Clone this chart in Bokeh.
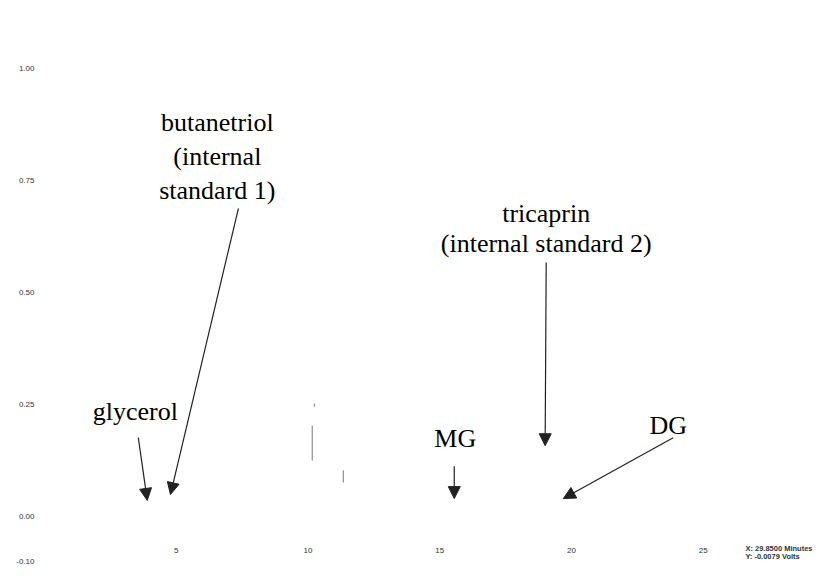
import math
from bokeh.plotting import figure
from bokeh.models import (Range1d, FixedTicker, Arrow, NormalHead, Label,
                          ColumnDataSource)
from bokeh.core.properties import value
from bokeh.embed import file_html
from bokeh.resources import INLINE

# ---- data ----
x_ticks = [5, 10, 15, 20, 25]
y_ticks = [-0.10, 0.00, 0.25, 0.50, 0.75, 1.00]
y_tick_labels = ["-0.10", "0.00", "0.25", "0.50", "0.75", "1.00"]

# visible fragments of the detector trace (minutes, volts)
trace_time = [10.16, 10.16, math.nan, 10.24, 10.24, math.nan, 11.34, 11.34]
trace_volts = [0.125, 0.203, math.nan, 0.245, 0.252, math.nan, 0.076, 0.103]

# peak annotations: text lines
label_text = ["butanetriol", "(internal", "standard 1)",
              "tricaprin", "(internal standard 2)",
              "glycerol", "MG", "DG"]
label_x = [6.56, 6.56, 6.56, 19.04, 19.04, 3.45, 15.59, 23.67]
label_y = [0.880, 0.804, 0.728, 0.676, 0.609, 0.234, 0.174, 0.203]

# arrows: start -> tip
arrow_name = ["glycerol", "butanetriol", "tricaprin", "MG", "DG"]
arrow_x0 = [3.56, 7.36, 19.04, 15.55, 23.86]
arrow_y0 = [0.176, 0.688, 0.567, 0.112, 0.176]
arrow_x1 = [3.90, 4.78, 19.00, 15.55, 19.69]
arrow_y1 = [0.036, 0.049, 0.158, 0.040, 0.040]

readout = ["X: 29.8500 Minutes", "Y: -0.0079 Volts"]

# ---- figure ----
p = figure(width=820, height=569, output_backend="svg", toolbar_location=None,
           x_range=Range1d(0, 29.45), y_range=Range1d(-0.1004, 1.0201),
           frame_width=776, frame_height=502,
           min_border_left=44, min_border_right=0,
           min_border_top=59, min_border_bottom=8)
p.outline_line_color = None
p.grid.visible = False
p.background_fill_color = "white"

for ax in (p.xaxis[0], p.yaxis[0]):
    ax.axis_line_color = None
    ax.major_tick_line_color = None
    ax.minor_tick_line_color = None
    ax.major_label_text_font = "Liberation Sans"
    ax.major_label_text_font_size = "8px"
    ax.major_label_text_color = "#333333"

p.xaxis[0].ticker = FixedTicker(ticks=x_ticks)
p.xaxis[0].major_label_standoff = -20
p.yaxis[0].ticker = FixedTicker(ticks=y_ticks)
p.yaxis[0].major_label_overrides = {t: s for t, s in zip(y_ticks, y_tick_labels)}
p.yaxis[0].major_label_standoff = 4

p.line(trace_time, trace_volts, line_color="#777777", line_width=1)

src = ColumnDataSource(dict(x=label_x, y=label_y, t=label_text))
p.text(x="x", y="y", text="t", source=src, text_align="center",
       text_baseline="middle", text_font=value("Liberation Serif"),
       text_font_size="26px", text_color="black")

for x0, y0, x1, y1 in zip(arrow_x0, arrow_y0, arrow_x1, arrow_y1):
    p.add_layout(Arrow(x_start=x0, y_start=y0, x_end=x1, y_end=y1,
                       line_color="#222222", line_width=1.2,
                       end=NormalHead(size=12, fill_color="#222222",
                                      line_color="#222222")))

p.add_layout(Label(x=-0.45, y=1.089, text="Volts", text_align="center",
                   text_baseline="middle", text_font="Liberation Sans",
                   text_font_size="7px", text_color="#333333"))
for i, t in enumerate(readout):
    p.add_layout(Label(x=26.6, y=-0.071 - 0.018 * i, text=t,
                       text_baseline="middle", text_font="Liberation Sans",
                       text_font_size="7.5px", text_font_style="bold",
                       text_color="#333333"))

open("out.html", "w").write(file_html(p, INLINE))
